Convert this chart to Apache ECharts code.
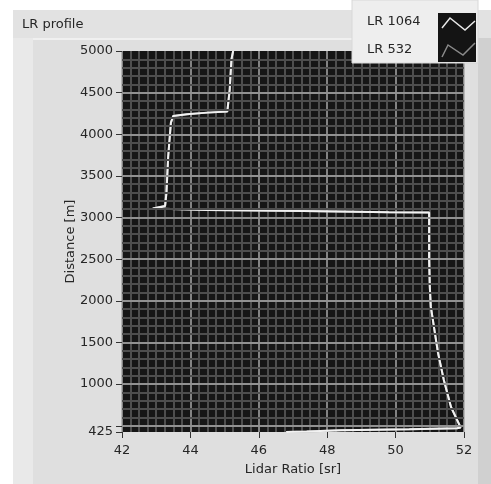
<!DOCTYPE html>
<html><head><meta charset="utf-8">
<script src="https://cdn.jsdelivr.net/npm/echarts@6/dist/echarts.min.js"></script>
<style>html,body{margin:0;padding:0;background:#fff}#c{width:491px;height:484px}</style>
</head><body><div id="c"></div>
<script>
// Lidar ratio [sr] (x) vs distance [m] (y)
const lr1064 = [46.8,47.4,48.4,50.4,51.8,51.9,51.62,51.41,51.24,51.12,51.03,51.0,50.98,50.98,49.8,47.3,44.5,42.9,42.9,43.26,43.3,43.35,43.43,43.5,43.9,44.5,45.08,45.15,45.2,45.25];
const dist1064 = [425,430,445,458,470,480,725,1050,1375,1690,1930,2170,2500,3060,3065,3080,3090,3110,3130,3140,3300,3730,4140,4220,4240,4260,4275,4540,4900,5000];
const lr532 = lr1064.slice();
const dist532 = dist1064.slice();
const yLabelValues = [425,1000,1500,2000,2500,3000,3500,4000,4500,5000];
const yTickValues = [425,500,1000,1500,2000,2500,3000,3500,4000,4500,5000];
const yMajorGrid = [500,1000,1500,2000,2500,3000,3500,4000,4500];
const yMinorGrid = [];
for (let v = 500; v < 5000; v += 100) yMinorGrid.push(v);
const seriesNames = ['LR 1064','LR 532'];

const FONT = 'DejaVu Sans';
const TXT = '#262626';
const chart = echarts.init(document.getElementById('c'), null, {renderer:'canvas'});
const pts = (xs, ys) => xs.map((x,i)=>[x, ys[i]]);
const gridLines = yMinorGrid.map(v=>({yAxis:v, lineStyle:{color:'#4e4e4e', width:2, type:'solid'}}))
  .concat(yMajorGrid.map(v=>({yAxis:v, lineStyle:{color:'#a8a8a8', width:1.5, type:'solid'}})));

chart.setOption({
  animation:false,
  backgroundColor:'#ffffff',
  graphic:[
    {type:'rect', z:-10, shape:{x:13,y:10,width:478,height:474}, style:{fill:'#e2e2e2'}},
    {type:'rect', z:-9, shape:{x:13,y:38,width:465,height:446}, style:{fill:'#dfdfdf'}},
    {type:'rect', z:-8, shape:{x:13,y:38,width:465,height:2}, style:{fill:'#f0f0f0'}},
    {type:'rect', z:-8, shape:{x:13,y:38,width:20,height:446}, style:{fill:'#e9e9e9'}},
    {type:'rect', z:-8, shape:{x:478,y:38,width:13,height:446}, style:{fill:'#d0d0d0'}},
    {type:'text', z:10, style:{text:'LR profile', x:22, y:25, font:'13px "'+FONT+'"', fill:TXT, verticalAlign:'middle'}},
    {type:'rect', z:100, shape:{x:352,y:0,width:126,height:63}, style:{fill:'#eeeeee', stroke:'#d8d8d8', lineWidth:1}},
    {type:'text', z:101, style:{text:seriesNames[0], x:367, y:22, font:'13px "'+FONT+'"', fill:TXT, verticalAlign:'middle'}},
    {type:'text', z:101, style:{text:seriesNames[1], x:367, y:50, font:'13px "'+FONT+'"', fill:TXT, verticalAlign:'middle'}},
    {type:'rect', z:101, shape:{x:438,y:13,width:38,height:49}, style:{fill:'#141414'}},
    {type:'polyline', z:102, shape:{points:[[442,28],[450,18],[465,30],[475,21]]}, style:{stroke:'#e8e8e8', lineWidth:1.5, fill:null}},
    {type:'polyline', z:102, shape:{points:[[442,57],[448,45],[463,55],[475,43]]}, style:{stroke:'#8a8a8a', lineWidth:1.5, fill:null}}
  ],
  grid:{left:122, right:27, top:51, bottom:52, show:true, backgroundColor:'#161616', borderWidth:0},
  xAxis:{
    type:'value', min:42, max:52, interval:2,
    name:'Lidar Ratio [sr]', nameLocation:'middle', nameGap:31, nameMoveOverlap:false,
    nameTextStyle:{fontFamily:FONT, fontSize:13, color:TXT},
    axisLine:{show:false},
    axisTick:{show:true, length:6, lineStyle:{color:'#333'}},
    axisLabel:{fontFamily:FONT, fontSize:13, color:TXT, margin:12, formatter:v=>String(v)},
    splitLine:{show:true, lineStyle:{color:'#a8a8a8', width:1.5}},
    minorTick:{show:false, splitNumber:8},
    minorSplitLine:{show:true, lineStyle:{color:'#4e4e4e', width:2}}
  },
  yAxis:{
    type:'value', min:425, max:5000,
    name:'Distance [m]', nameLocation:'middle', nameGap:45, nameMoveOverlap:false,
    nameTextStyle:{fontFamily:FONT, fontSize:13, color:TXT},
    axisLine:{show:false},
    axisTick:{show:true, length:6, lineStyle:{color:'#333'}, customValues:yTickValues},
    axisLabel:{fontFamily:FONT, fontSize:13, color:TXT, margin:9, customValues:yLabelValues, formatter:v=>String(v)},
    splitLine:{show:false}
  },
  series:[
    {type:'line', name:'grid', data:[], z:1, silent:true,
     markLine:{silent:true, symbol:['none','none'], label:{show:false}, animation:false, data:gridLines}},
    {type:'line', name:seriesNames[1], data:pts(lr532, dist532), showSymbol:false, z:3,
     lineStyle:{color:'#9a9a9a', width:2}},
    {type:'line', name:seriesNames[0], data:pts(lr1064, dist1064), showSymbol:false, z:4,
     lineStyle:{color:'#f2f2f2', width:2}}
  ]
});
</script></body></html>
